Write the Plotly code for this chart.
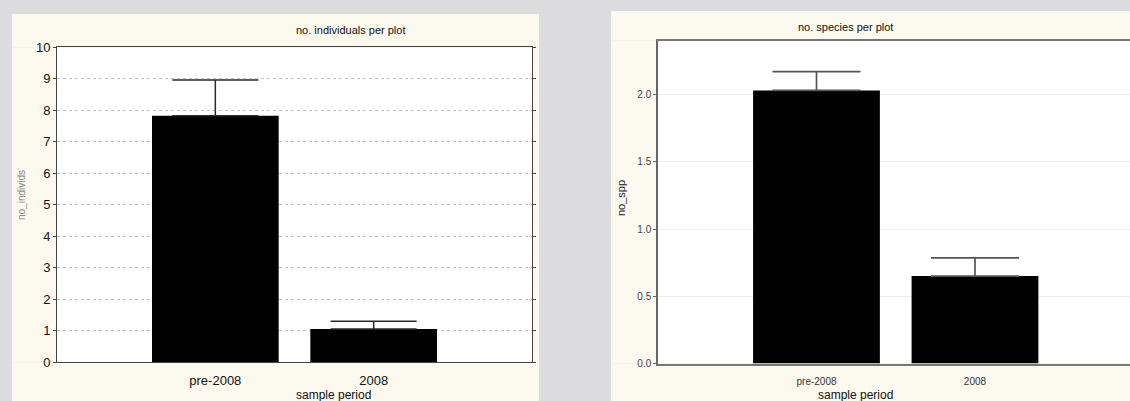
import plotly.graph_objects as go

# Sample periods shared by both panels
periods = ["pre-2008", "2008"]

# Panel 1: individuals per plot (mean and upper error)
individs_mean = [7.83, 1.06]
individs_err = [1.13, 0.24]
individs_ticks = [0, 1, 2, 3, 4, 5, 6, 7, 8, 9, 10]

# Panel 2: species per plot (mean and upper error)
spp_mean = [2.03, 0.65]
spp_err = [0.14, 0.135]
spp_ticks = [0.0, 0.5, 1.0, 1.5, 2.0]

W, H = 1130, 401


def px_x(v):
    return v / W


def px_y(v):
    return (H - v) / H


# pixel boxes: panel (pl, pt, pr) and plotting area (l, t, r, b)
P1 = dict(pl=12, pt=14, pr=539, l=57, t=47.3, r=532, b=362.3)
P2 = dict(pl=611, pt=11, pr=1130, l=658, t=40.7, r=1130, b=363.5)

fig = go.Figure()

fig.add_trace(go.Bar(
    x=periods, y=individs_mean, width=0.8,
    marker=dict(color="black", line=dict(width=0)),
    error_y=dict(type="data", array=individs_err, arrayminus=[0, 0], symmetric=False,
                 color="#2a2a2a", thickness=1.5, width=43),
    xaxis="x", yaxis="y", showlegend=False,
))

fig.add_trace(go.Bar(
    x=periods, y=spp_mean, width=0.8,
    marker=dict(color="black", line=dict(width=0)),
    error_y=dict(type="data", array=spp_err, arrayminus=[0, 0], symmetric=False,
                 color="#555555", thickness=1.7, width=44),
    xaxis="x2", yaxis="y2", showlegend=False,
))

cream = "#fcf9ef"


def cream_frame(p):
    """Cream panel drawn as four strips around the white plotting area."""
    boxes = [
        (p["pl"], p["pt"], p["pr"], p["t"]),   # top strip
        (p["pl"], p["b"], p["pr"], H),         # bottom strip
        (p["pl"], p["t"], p["l"], p["b"]),     # left strip
        (p["r"], p["t"], p["pr"], p["b"]),     # right strip
    ]
    out = []
    for x0, y0, x1, y1 in boxes:
        if x1 - x0 <= 0 or y1 - y0 <= 0:
            continue
        out.append(dict(type="rect", xref="paper", yref="paper",
                        x0=px_x(x0), x1=px_x(x1), y0=px_y(y1), y1=px_y(y0),
                        fillcolor=cream, line=dict(width=0), layer="below"))
    return out


shapes = cream_frame(P1) + cream_frame(P2)

font = "Liberation Sans, Arial, sans-serif"

annotations = [
    dict(text="no. individuals per plot", x=px_x(294), y=px_y(30), xref="paper", yref="paper",
         showarrow=False, font=dict(family=font, size=11, color="#111111"), yanchor="middle"),
    dict(text="sample period", x=px_x(294), y=px_y(395), xref="paper", yref="paper",
         showarrow=False, font=dict(family=font, size=12, color="#111111"), yanchor="middle"),
    dict(text="no_individs", x=px_x(21), y=px_y(195), xref="paper", yref="paper", textangle=-90,
         showarrow=False, font=dict(family=font, size=10, color="#888888"),
         xanchor="center", yanchor="middle"),
    dict(text="no. species per plot", x=px_x(895), y=px_y(27), xref="paper", yref="paper",
         showarrow=False, font=dict(family=font, size=11, color="#111111"), yanchor="middle"),
    dict(text="sample period", x=px_x(895), y=px_y(395), xref="paper", yref="paper",
         showarrow=False, font=dict(family=font, size=12, color="#111111"), yanchor="middle"),
    dict(text="no_spp", x=px_x(621), y=px_y(198), xref="paper", yref="paper", textangle=-90,
         showarrow=False, font=dict(family=font, size=11, color="#222222"),
         xanchor="center", yanchor="middle"),
]

fig.update_layout(
    width=W, height=H,
    margin=dict(l=0, r=0, t=0, b=0, autoexpand=False),
    paper_bgcolor="#dcdcdf",
    plot_bgcolor="white",
    bargap=0.2,
    shapes=shapes,
    annotations=annotations,
    xaxis=dict(
        domain=[px_x(P1["l"]), px_x(P1["r"])], range=[-1, 2], anchor="y", automargin=False,
        showline=True, linecolor="#444444", linewidth=1, mirror=True,
        ticks="outside", ticklen=6, tickcolor="rgba(0,0,0,0)", showgrid=False,
        tickfont=dict(family=font, size=13, color="#111111"),
    ),
    yaxis=dict(
        domain=[px_y(P1["b"]), px_y(P1["t"])], range=[0, 10], anchor="x", automargin=False,
        tickvals=individs_ticks, ticktext=[str(t) for t in individs_ticks],
        showline=True, linecolor="#444444", linewidth=1, mirror="ticks",
        ticks="outside", ticklen=3, tickcolor="#444444",
        showgrid=True, gridcolor="#c4c4c4", griddash="dot", gridwidth=1,
        zeroline=False,
        tickfont=dict(family=font, size=13, color="#111111"),
    ),
    xaxis2=dict(
        domain=[px_x(P2["l"]), 1.0], range=[-1, 1.978], anchor="y2", automargin=False,
        showline=True, linecolor="#777777", linewidth=2, mirror=True,
        ticks="outside", ticklen=7, tickcolor="rgba(0,0,0,0)", showgrid=False,
        tickfont=dict(family=font, size=10, color="#333333"),
    ),
    yaxis2=dict(
        domain=[px_y(P2["b"]), px_y(P2["t"])], range=[0, 2.4], anchor="x2", automargin=False,
        tickvals=spp_ticks, ticktext=[f"{t:.1f}" for t in spp_ticks],
        showline=True, linecolor="#666666", linewidth=1.5,
        ticks="outside", ticklen=3, tickcolor="#666666",
        showgrid=True, gridcolor="#efefef", gridwidth=1,
        zeroline=False,
        tickfont=dict(family=font, size=10, color="#444444"),
    ),
)

fig.write_html("out.html")
